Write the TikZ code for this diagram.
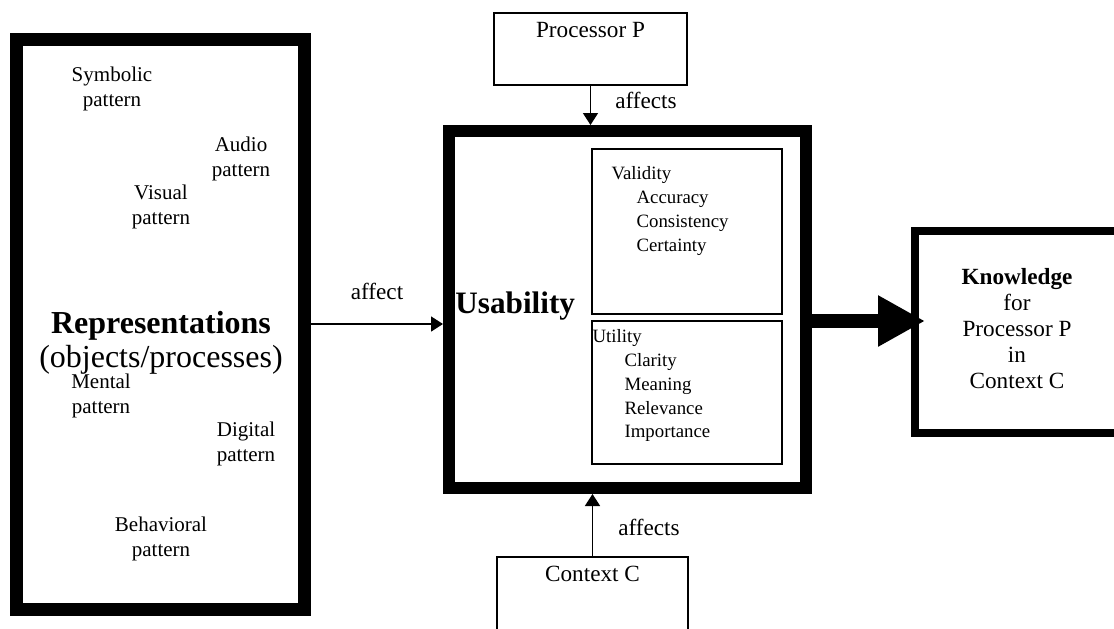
\documentclass[tikz,border=0pt]{standalone}
\usepackage{fontspec}
\setmainfont{Liberation Serif}
\usetikzlibrary{arrows.meta}

\tikzset{
  heavybox/.style={draw, line width=#1, inner sep=0pt},
  lightbox/.style={draw, line width=0.8pt, inner sep=0pt},
  patlabel/.style={align=center, inner sep=0pt, font=\fontsize{10.5}{12.5}\selectfont},
  listlabel/.style={align=left, inner sep=0pt, anchor=north west, font=\fontsize{9.4}{11.9}\selectfont},
  midlabel/.style={inner sep=0pt, font=\fontsize{11.6}{13}\selectfont},
  biglabel/.style={inner sep=0pt, font=\fontsize{16}{18}\selectfont},
  thinarrow/.style={line width=0.8pt, -{Triangle[length=6pt,width=7.5pt]}},
  fatarrow/.style={line width=7pt, -{Triangle[length=23.5pt,width=24pt]}, shorten >=-7pt}
}

\begin{document}
\begin{tikzpicture}[x=0.5pt,y=-0.5pt]
  \useasboundingbox (0,0) rectangle (1114,628);

  % boxes
  \node[heavybox=6.5pt, minimum width=144pt, minimum height=285pt] (rep) at (160.5,324) {};
  \node[heavybox=6pt, minimum width=178.5pt, minimum height=178.5pt] (usab) at (627.5,309.5) {};
  \node[heavybox=4pt, minimum width=102pt, minimum height=101pt] (know) at (1017,332) {};
  \node[lightbox, minimum width=96.5pt, minimum height=36pt] (proc) at (590.5,49) {};
  \node[lightbox, minimum width=95.5pt, minimum height=51.5pt] (ctx) at (592.5,608.5) {};
  \node[lightbox, minimum width=95pt, minimum height=82.5pt] (vali) at (687,231.5) {};
  \node[lightbox, minimum width=95pt, minimum height=71.5pt] (util) at (687,392.5) {};

  % texts in the representations box
  \node[patlabel] (symb) at (112,88.5) {Symbolic\\pattern};
  \node[patlabel] (audio) at (241,158.5) {Audio\\pattern};
  \node[patlabel] (visual) at (161,206.5) {Visual\\pattern};
  \node[biglabel, anchor=base, font=\fontsize{16}{18}\selectfont\bfseries] (reptitle) at (161,333.5) {Representations};
  \node[biglabel, anchor=base] (repsub) at (161,367) {(objects/processes)};
  \node[patlabel] (mental) at (101,396) {Mental\\pattern};
  \node[patlabel] (digital) at (246,443.5) {Digital\\pattern};
  \node[patlabel] (behav) at (161,538.5) {Behavioral\\pattern};

  % texts in the usability box
  \node[biglabel, anchor=base west, font=\fontsize{15.6}{18}\selectfont\bfseries] (usabtitle) at (455,313) {Usability};
  \node[listlabel] (valitext) at ([xshift=10pt,yshift=-9pt]vali.north west)
    {Validity\\\hspace*{12.5pt}Accuracy\\\hspace*{12.5pt}Consistency\\\hspace*{12.5pt}Certainty};
  \node[listlabel] (utiltext) at ([xshift=0.5pt,yshift=-4.5pt]util.north west)
    {Utility\\\hspace*{16pt}Clarity\\\hspace*{16pt}Meaning\\\hspace*{16pt}Relevance\\\hspace*{16pt}Importance};

  \node[midlabel, anchor=north] (proctext) at ([yshift=-5pt]proc.north) {Processor P};
  \node[midlabel, anchor=north] (ctxtext) at ([yshift=-5pt]ctx.north) {Context C};
  \node[midlabel, align=center] (knowtext) at ([yshift=1.5pt]know.center)
    {\textbf{Knowledge}\\for\\Processor P\\in\\Context C};

  % connectors
  \draw[thinarrow] (rep.east) -- (rep.east -| usab.west)
    node[midlabel, midway, above=11.5pt] (affectlbl) {affect};
  \draw[thinarrow] (proc.south) -- (proc.south |- usab.north)
    node[midlabel, midway, anchor=west, xshift=12pt, yshift=2.5pt] (affproc) {affects};
  \draw[thinarrow] (ctx.north) -- (ctx.north |- usab.south)
    node[midlabel, midway, anchor=west, xshift=12.5pt, yshift=-1pt] (affctx) {affects};
  \coordinate (bigy) at (0,321);
  \draw[fatarrow] (usab.east |- bigy) -- (know.west |- bigy);
\end{tikzpicture}
\end{document}
